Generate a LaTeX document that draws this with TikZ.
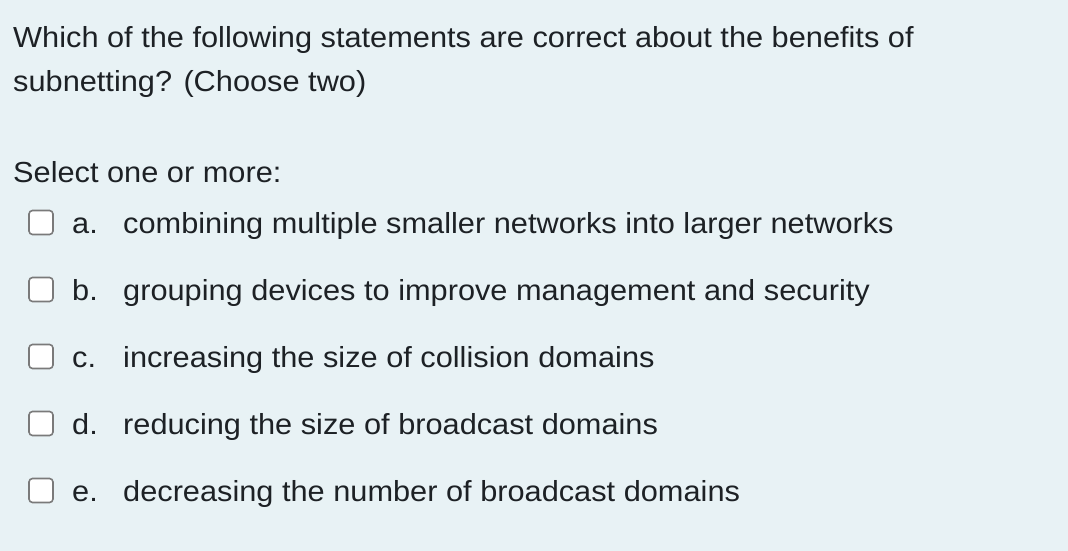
\documentclass[tikz,border=0pt]{standalone}
\usepackage{fontspec}
\setmainfont{Liberation Sans}[FakeStretch=1.06]
\definecolor{bg}{HTML}{E8F2F5}
\definecolor{ink}{HTML}{1D2125}
\definecolor{boxline}{HTML}{7A7A7A}
\begin{document}
\begin{tikzpicture}[x=1pt,y=-1pt,
  txt/.style={anchor=base west,inner sep=0pt,text=ink,font=\fontsize{29}{33}\selectfont},
  cbox/.style={draw=boxline,fill=white,line width=1.6pt,rounded corners=3.5pt,minimum size=24pt,inner sep=0pt}]
\fill[bg] (0,0) rectangle (1068,551);
\useasboundingbox (0,0) rectangle (1068,551);
\node[txt] (q1) at (13,48) {Which of the following statements are correct about the benefits of};
\node[txt] (q2) at (13,92) {subnetting? (Choose two)};
\node[txt] (sel) at (13,182) {Select one or more:};
\foreach \n/\l/\t [count=\i from 0] in {a/a./combining multiple smaller networks into larger networks,
  b/b./grouping devices to improve management and security,
  c/c./increasing the size of collision domains,
  d/d./reducing the size of broadcast domains,
  e/e./decreasing the number of broadcast domains}{
  \node[cbox] (box\n) at (41,{222.5+67*\i}) {};
  \node[txt] (lab\n) at (72,{233+67*\i}) {\l};
  \node[txt] (opt\n) at (123,{233+67*\i}) {\t};
}
\end{tikzpicture}
\end{document}
